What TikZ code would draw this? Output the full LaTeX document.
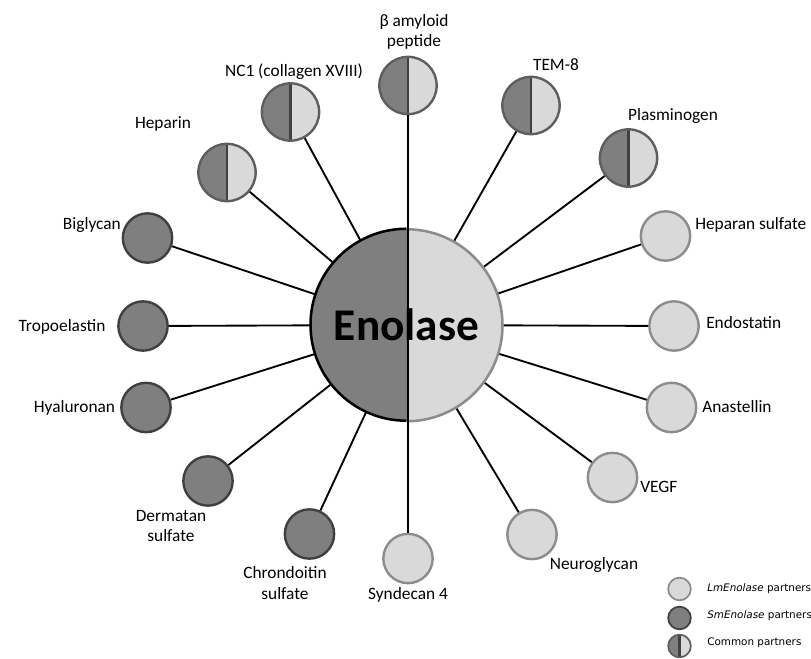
\documentclass[tikz,border=0pt]{standalone}
\usepackage{fontspec}
\setmainfont{Carlito}
\newfontfamily\legfont{DejaVu Sans}
\usepackage{tikz}
\usetikzlibrary{calc}
\definecolor{smF}{HTML}{7F7F7F}
\definecolor{smD}{HTML}{404040}
\definecolor{lmF}{HTML}{D9D9D9}
\definecolor{lmD}{HTML}{8C8C8C}
\definecolor{bothD}{HTML}{5E5E5E}
\tikzset{
  sm/.style={circle,inner sep=0pt,minimum size=37pt,fill=smF,draw=smD,line width=1.8pt},
  lm/.style={circle,inner sep=0pt,minimum size=37pt,fill=lmF,draw=lmD,line width=1.8pt},
  both/.style={circle,inner sep=0pt,minimum size=43pt,fill=lmF,draw=bothD,line width=1.8pt,
    path picture={
      \fill[smF] (path picture bounding box.south) rectangle (path picture bounding box.north west);
      \draw[smD,line width=1.6pt] (path picture bounding box.south) -- (path picture bounding box.north);}},
  lbl/.style={font=\fontsize{13}{15.5}\selectfont,inner sep=0pt,align=center},
  leg/.style={font=\legfont\fontsize{7.8}{9}\selectfont,inner sep=0pt,anchor=west},
  link/.style={line width=1.4pt},
  axis/.style={line width=2.2pt}
}
\begin{document}
\begin{tikzpicture}[x=0.75pt,y=-0.75pt]
\useasboundingbox (0,0) rectangle (811,659);
\node[both] (amyl) at (408,85.5) {};
\node[both] (tem) at (531,105.5) {};
\node[both] (plas) at (628.5,158) {};
\node[both] (nc1) at (290.5,112) {};
\node[both] (hepa) at (227,172.5) {};
\node[sm] (bigl) at (147.5,238) {};
\node[sm] (tropo) at (143,326) {};
\node[sm] (hyal) at (146,407.5) {};
\node[sm] (derm) at (208,481) {};
\node[sm] (chon) at (309.5,534) {};
\node[lm] (heps) at (665.5,236) {};
\node[lm] (endo) at (674,326) {};
\node[lm] (anas) at (671.5,407.5) {};
\node[lm] (vegf) at (612.5,477.5) {};
\node[lm] (neur) at (532,534.5) {};
\node[lm] (synd) at (408,558.5) {};
\node[circle,inner sep=0pt,minimum size=144pt,fill=lmF,
  path picture={\fill[smF] (path picture bounding box.south) rectangle (path picture bounding box.north west);},
  font=\fontsize{34}{36}\selectfont\bfseries] (enz) at (406.5,325) {Enolase};
\foreach \p in {tem,plas,nc1,hepa,bigl,tropo,hyal,derm,chon,heps,endo,anas,vegf,neur}
  \draw[link] (\p) -- (enz);
\draw[black,line width=1.9pt] (enz.north) arc[start angle=90,end angle=270,radius=72pt];
\draw[lmD,line width=1.9pt] (enz.south) arc[start angle=270,end angle=450,radius=72pt];
\draw[axis] (amyl) -- (synd);
\node[lbl] (amylL) at (414,32) {β amyloid\\peptide};
\node[lbl] (temL) at (556,65) {TEM-8};
\node[lbl] (plasL) at (673,116) {Plasminogen};
\node[lbl] (nc1L) at (294,72) {NC1 (collagen XVIII)};
\node[lbl] (hepaL) at (163,124) {Heparin};
\node[lbl,anchor=east] (biglL) at (121,225) {Biglycan};
\node[lbl] (tropoL) at (62,327) {Tropoelastin};
\node[lbl] (hyalL) at (74.5,408) {Hyaluronan};
\node[lbl] (dermL) at (171,526) {Dermatan\\sulfate};
\node[lbl] (chonL) at (285,583) {Chrondoitin\\sulfate};
\node[lbl,anchor=west] (hepsL) at (695,225) {Heparan sulfate};
\node[lbl,anchor=west] (endoL) at (706,323) {Endostatin};
\node[lbl,anchor=west] (anasL) at (702,407) {Anastellin};
\node[lbl,anchor=west] (vegfL) at (640,487) {VEGF};
\node[lbl] (neurL) at (594,565) {Neuroglycan};
\node[lbl] (syndL) at (408,595) {Syndecan 4};
\node[lm,minimum size=17pt,line width=1.3pt] (legL) at (679.5,589) {};
\node[sm,minimum size=17pt,line width=1.3pt] (legS) at (679.5,618) {};
\node[both,minimum size=17pt,line width=1.3pt] (legB) at (679.5,646) {};
\node[leg] (legLt) at (707,589) {\textit{LmEnolase} partners};
\node[leg] (legSt) at (707,616) {\textit{SmEnolase} partners};
\node[leg] (legBt) at (707,643) {Common partners};
\end{tikzpicture}
\end{document}
